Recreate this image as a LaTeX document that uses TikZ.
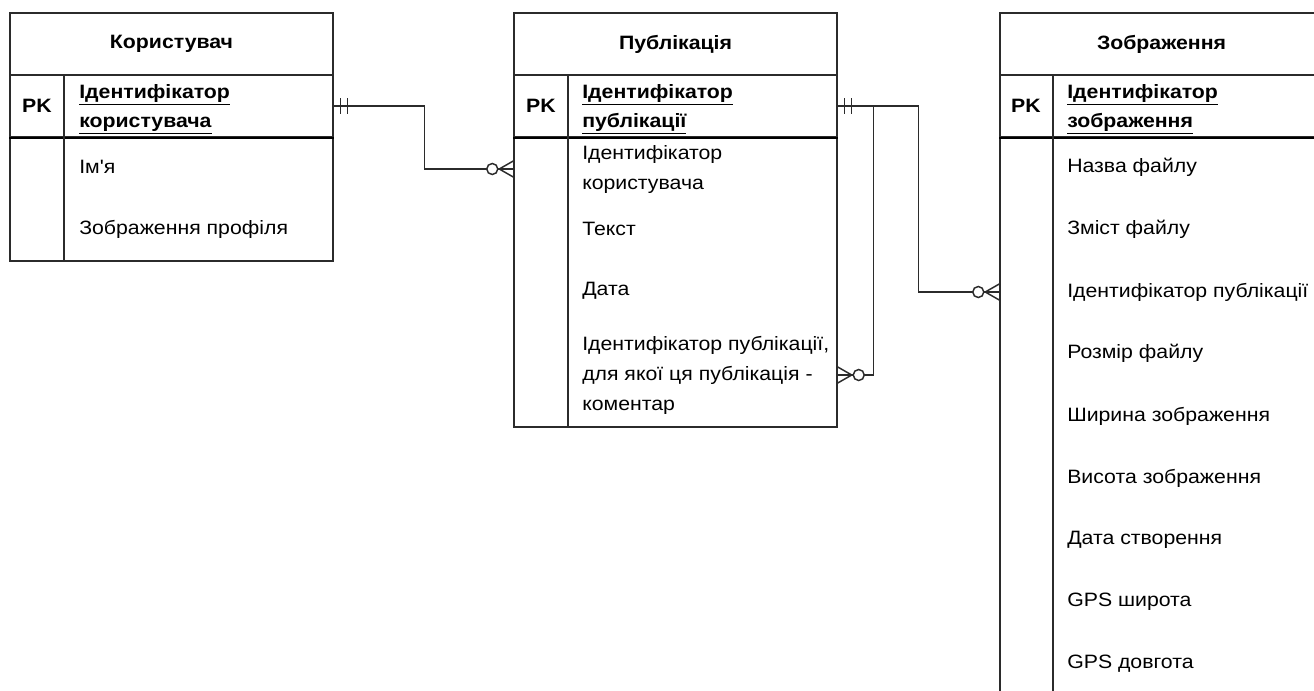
\documentclass[tikz,border=0pt]{standalone}
\usepackage{fontspec}
\setmainfont{Liberation Sans}[Ligatures=TeXOff, FakeStretch=1.1]
\usetikzlibrary{positioning, fit}
\definecolor{linegray}{HTML}{2B2B2B}

\tikzset{
  box/.style={draw=linegray, line width=1.1pt, inner sep=0pt},
  rule/.style={draw=linegray, line width=1.1pt},
  pkrule/.style={draw=black, line width=1.6pt},
  link/.style={draw=linegray, line width=1.1pt},
  title/.style={font=\fontsize{14.5}{22.5}\selectfont\bfseries},
  pkmark/.style={font=\fontsize{14.5}{22.5}\selectfont\bfseries},
  key/.style={anchor=west, align=left, font=\fontsize{14.5}{22}\selectfont\bfseries},
  attr/.style={anchor=west, align=left},
  mandone/.pic={\draw[link] (7,-8) -- (7,8) (14,-8) -- (14,8);},
  zeromany/.pic={\draw[link] (0,-8) -- (14,0) -- (0,8);
                 \draw[link, fill=white] (21,0) circle (5.5);}
}

\begin{document}
\begin{tikzpicture}[x=0.75pt, y=-0.75pt]
\tikzstyle{every node}+=[inner sep=0pt, font=\fontsize{14.5}{22.5}\selectfont]
\useasboundingbox (0,0) rectangle (1314,690);
\clip (0,0) rectangle (1314,690);

% Користувач
\node[box, fit={(10,13) (333,75)}] (userhead) {};
\node[box, fit={(10,75) (333,137)}] (userpk) {};
\node[box, fit={(10,137) (333,261)}] (userbody) {};
\draw[pkrule] (userpk.south west) -- (userpk.south east);
\draw[rule] (64,75) -- (64,261);
\node[title] at (userhead) {Користувач};
\node[pkmark] at (37,106) {PK};
\node[key] (userkey) at (79,109) {\underline{Ідентифікатор}\\\underline{користувача}};
\node[attr] (username) at (79,167) {Ім'я};
\node[attr] (useravatar) at (79,229) {Зображення профіля};

% Публікація
\node[box, fit={(514,13) (837,75)}] (posthead) {};
\node[box, fit={(514,75) (837,137)}] (postpk) {};
\node[box, fit={(514,137) (837,427)}] (postbody) {};
\draw[pkrule] (postpk.south west) -- (postpk.south east);
\draw[rule] (568,75) -- (568,427);
\node[title] at (posthead) {Публікація};
\node[pkmark] at (541,106) {PK};
\node[key] (postkey) at (582,109) {\underline{Ідентифікатор}\\\underline{публікації}};
\node[attr] (postuser) at (582,169) {Ідентифікатор\\користувача};
\node[attr] (posttext) at (582,229) {Текст};
\node[attr] (postdate) at (582,291) {Дата};
\node[attr] (postreply) at (582,375) {Ідентифікатор публікації,\\для якої ця публікація -\\коментар};

% Зображення
\node[box, fit={(1000,13) (1323,75)}] (imghead) {};
\node[box, fit={(1000,75) (1323,137)}] (imgpk) {};
\node[box, fit={(1000,137) (1323,720)}] (imgbody) {};
\draw[pkrule] (imgpk.south west) -- (imgpk.south east);
\draw[rule] (1053,75) -- (1053,720);
\node[title] at (imghead) {Зображення};
\node[pkmark] at (1026,106) {PK};
\node[key] (imgkey) at (1067,109) {\underline{Ідентифікатор}\\\underline{зображення}};
\node[attr] (imgname) at (1067,167) {Назва файлу};
\node[attr] (imgdata) at (1067,229) {Зміст файлу};
\node[attr] (imgpost) at (1067,292) {Ідентифікатор публікації};
\node[attr] (imgsize) at (1067,353) {Розмір файлу};
\node[attr] (imgwidth) at (1067,416) {Ширина зображення};
\node[attr] (imgheight) at (1067,478) {Висота зображення};
\node[attr] (imgdate) at (1067,540) {Дата створення};
\node[attr] (imglat) at (1067,602) {GPS широта};
\node[attr] (imglon) at (1067,664) {GPS довгота};

% зв'язки
\draw[link] (userpk.east) -- ++(91,0) |- (postbody.west |- postuser.west);
\draw[link] (postpk.east) -- ++(81,0) |- (imgbody.west |- imgpost.west);
\draw[link] (postpk.east) -- ++(36,0) |- (postbody.east |- postreply.west);
\pic at (userpk.east) {mandone};
\pic at (postpk.east) {mandone};
\pic[rotate=180] at (postbody.west |- postuser.west) {zeromany};
\pic[rotate=180] at (imgbody.west |- imgpost.west) {zeromany};
\pic at (postbody.east |- postreply.west) {zeromany};
\end{tikzpicture}
\end{document}
